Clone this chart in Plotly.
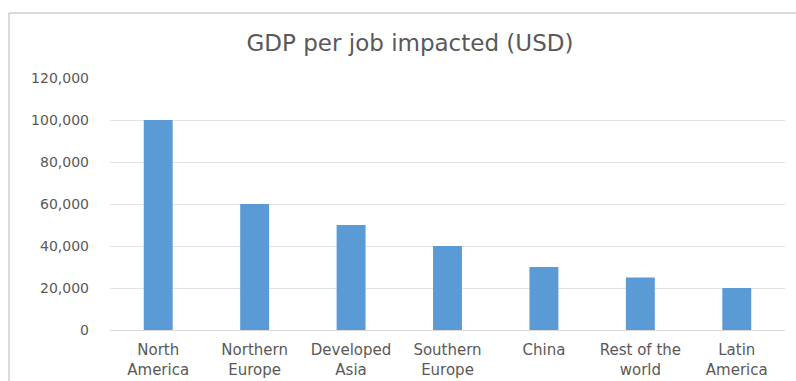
import plotly.graph_objects as go

# Regions and GDP per impacted job (USD)
regions = ["North<br>America", "Northern<br>Europe", "Developed<br>Asia", "Southern<br>Europe",
           "China", "Rest of the<br>world", "Latin<br>America"]
gdp_per_job = [100000, 60000, 50000, 40000, 30000, 25000, 20000]
y_ticks = [0, 20000, 40000, 60000, 80000, 100000, 120000]
y_tick_labels = ["0", "20,000", "40,000", "60,000", "80,000", "100,000", "120,000"]

W, H = 796, 381
ML, MR, MT, MB = 110, 11, 78, 51
pw, ph = W - ML - MR, H - MT - MB


def px_x(p):
    return (p - ML) / pw


def px_y(p):
    return (H - MB - p) / ph


text_color = "#595959"
font_family = "DejaVu Sans, Verdana, sans-serif"

fig = go.Figure(
    go.Bar(
        x=regions,
        y=gdp_per_job,
        marker=dict(color="#5b9bd5", line=dict(width=0)),
        width=0.3,
    )
)

fig.update_layout(
    width=W,
    height=H,
    margin=dict(l=ML, r=MR, t=MT, b=MB, autoexpand=False),
    paper_bgcolor="white",
    plot_bgcolor="white",
    showlegend=False,
    title=dict(
        text="GDP per job impacted (USD)",
        x=410 / W,
        xanchor="center",
        y=1 - 43 / H,
        yanchor="middle",
        font=dict(family=font_family, size=23, color=text_color),
    ),
    xaxis=dict(
        automargin=False,
        showgrid=False,
        showline=False,
        ticks="",
        ticklabelstandoff=9,
        tickfont=dict(family=font_family, size=15, color=text_color),
    ),
    yaxis=dict(
        automargin=False,
        range=[0, 120000],
        tickvals=y_ticks,
        ticktext=y_tick_labels,
        showgrid=True,
        gridcolor="#e3e3e3",
        gridwidth=1,
        zeroline=True,
        zerolinecolor="#d9d9d9",
        zerolinewidth=1,
        showline=False,
        ticks="",
        ticklabelstandoff=20,
        tickfont=dict(family=font_family, size=14, color=text_color),
    ),
    shapes=[
        # outer chart frame: top and left edges
        dict(type="line", xref="paper", yref="paper",
             x0=px_x(9), x1=px_x(W + 5), y0=px_y(13), y1=px_y(13),
             line=dict(color="#cfcfcf", width=1.5)),
        dict(type="line", xref="paper", yref="paper",
             x0=px_x(9), x1=px_x(9), y0=px_y(13), y1=px_y(381),
             line=dict(color="#cfcfcf", width=1.5)),
    ],
)

fig.write_html("out.html")
